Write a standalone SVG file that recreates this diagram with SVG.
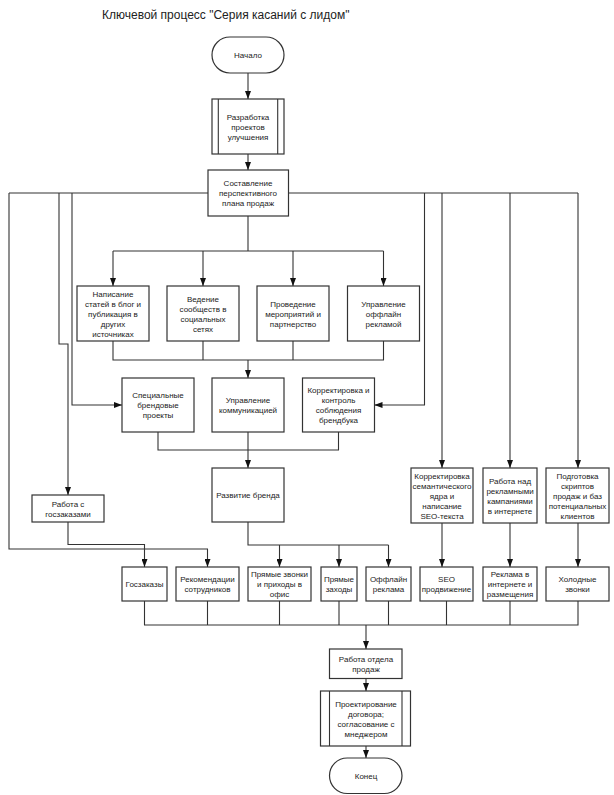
<svg xmlns="http://www.w3.org/2000/svg" width="614" height="795" viewBox="0 0 614 795">
<style>
.box{fill:#fff;stroke:#333;stroke-width:1.2}
.ln{fill:none;stroke:#333;stroke-width:1.1}
.t{font-family:"Liberation Sans",Arial,sans-serif;font-size:8px;fill:#222;text-anchor:middle}
.title{font-family:"Liberation Sans",Arial,sans-serif;font-size:12px;fill:#222}
</style>
<defs>
<marker id="ah" viewBox="0 0 8 6" refX="8" refY="3" markerWidth="8" markerHeight="6" markerUnits="userSpaceOnUse" orient="auto">
<path d="M0,0 L8,3 L0,6 z" fill="#111"/>
</marker>
</defs>
<rect width="614" height="795" fill="#fff"/>
<text class="title" x="102" y="19">Ключевой процесс "Серия касаний с лидом"</text>

<g id="connectors">
<path class="ln" d="M248,73 V99" marker-end="url(#ah)"/>
<path class="ln" d="M248,154 V170" marker-end="url(#ah)"/>
<path class="ln" d="M248,216 V251 M113,251 H383.5"/>
<path class="ln" d="M113,251 V286" marker-end="url(#ah)"/>
<path class="ln" d="M203,251 V286" marker-end="url(#ah)"/>
<path class="ln" d="M293,251 V286" marker-end="url(#ah)"/>
<path class="ln" d="M383.5,251 V286" marker-end="url(#ah)"/>
<path class="ln" d="M113,341 V360 H383.5 V341 M203,341 V360 M293,341 V360"/>
<path class="ln" d="M248,360 V378" marker-end="url(#ah)"/>
<path class="ln" d="M158,432 V450 H338.5 V432"/>
<path class="ln" d="M248,432 V468" marker-end="url(#ah)"/>
<path class="ln" d="M9,193 H208 M288,193 H578"/>
<path class="ln" d="M9,193 V549 H207.5 V567" marker-end="url(#ah)"/>
<path class="ln" d="M59,193 V344 H68 V495" marker-end="url(#ah)"/>
<path class="ln" d="M72,193 V405 H122" marker-end="url(#ah)"/>
<path class="ln" d="M424.5,193 V405 H374.5" marker-end="url(#ah)"/>
<path class="ln" d="M442,193 V468" marker-end="url(#ah)"/>
<path class="ln" d="M510,193 V468" marker-end="url(#ah)"/>
<path class="ln" d="M578,193 V468" marker-end="url(#ah)"/>
<path class="ln" d="M68,522 V544.5 H144.5 V567" marker-end="url(#ah)"/>
<path class="ln" d="M248,522 V545 H388.5"/>
<path class="ln" d="M279.5,545 V567" marker-end="url(#ah)"/>
<path class="ln" d="M339,545 V567" marker-end="url(#ah)"/>
<path class="ln" d="M388.5,545 V567" marker-end="url(#ah)"/>
<path class="ln" d="M442,523 V567" marker-end="url(#ah)"/>
<path class="ln" d="M510,523 V567" marker-end="url(#ah)"/>
<path class="ln" d="M578,523 V567" marker-end="url(#ah)"/>
<path class="ln" d="M144.5,601 V625 H578 V601 M207.5,601 V625 M279.5,601 V625 M339,601 V625 M388.5,601 V625 M446.5,601 V625 M510,601 V625"/>
<path class="ln" d="M366,625 V649" marker-end="url(#ah)"/>
<path class="ln" d="M366,678.5 V691" marker-end="url(#ah)"/>
<path class="ln" d="M366,746 V758" marker-end="url(#ah)"/>
</g>

<g id="start"><rect class="box" x="212" y="37" width="72" height="36" rx="18"/><text class="t" x="248" y="58">Начало</text></g>
<g id="razrab"><rect class="box" x="212" y="99" width="72" height="55"/><path class="ln" d="M218.3,99 V154 M277.7,99 V154"/><text class="t"><tspan x="248" y="119.5">Разработка</tspan><tspan x="248" y="129.5">проектов</tspan><tspan x="248" y="139.5">улучшения</tspan></text></g>
<g id="sostav"><rect class="box" x="208" y="170" width="80.5" height="46"/><text class="t"><tspan x="248" y="186">Составление</tspan><tspan x="248" y="196">перспективного</tspan><tspan x="248" y="206">плана продаж</tspan></text></g>

<g id="n1"><rect class="box" x="77" y="286" width="72" height="55"/><text class="t"><tspan x="113" y="296.5">Написание</tspan><tspan x="113" y="306.5">статей в блог и</tspan><tspan x="113" y="316.5">публикация в</tspan><tspan x="113" y="326.5">других</tspan><tspan x="113" y="336.5">источниках</tspan></text></g>
<g id="n2"><rect class="box" x="167" y="286" width="72" height="55"/><text class="t"><tspan x="203" y="301.5">Ведение</tspan><tspan x="203" y="311.5">сообществ в</tspan><tspan x="203" y="321.5">социальных</tspan><tspan x="203" y="331.5">сетях</tspan></text></g>
<g id="n3"><rect class="box" x="257" y="286" width="72" height="55"/><text class="t"><tspan x="293" y="306.5">Проведение</tspan><tspan x="293" y="316.5">мероприятий и</tspan><tspan x="293" y="326.5">партнерство</tspan></text></g>
<g id="n4"><rect class="box" x="347.5" y="286" width="72" height="55"/><text class="t"><tspan x="383.5" y="306.5">Управление</tspan><tspan x="383.5" y="316.5">оффлайн</tspan><tspan x="383.5" y="326.5">рекламой</tspan></text></g>

<g id="s1"><rect class="box" x="122" y="378" width="72" height="54"/><text class="t"><tspan x="158" y="398">Специальные</tspan><tspan x="158" y="408">брендовые</tspan><tspan x="158" y="418">проекты</tspan></text></g>
<g id="s2"><rect class="box" x="212" y="378" width="72" height="54"/><text class="t"><tspan x="248" y="403">Управление</tspan><tspan x="248" y="413">коммуникацией</tspan></text></g>
<g id="s3"><rect class="box" x="302.5" y="378" width="72" height="54"/><text class="t"><tspan x="338.5" y="393">Корректировка и</tspan><tspan x="338.5" y="403">контроль</tspan><tspan x="338.5" y="413">соблюдения</tspan><tspan x="338.5" y="423">брендбука</tspan></text></g>

<g id="brand"><rect class="box" x="212" y="468" width="72" height="54"/><text class="t" x="248" y="498">Развитие бренда</text></g>
<g id="gos"><rect class="box" x="32" y="495" width="72" height="27"/><text class="t"><tspan x="68" y="506.5">Работа с</tspan><tspan x="68" y="516.5">госзаказами</tspan></text></g>
<g id="seo1"><rect class="box" x="411" y="468" width="62" height="55"/><text class="t"><tspan x="442" y="478.5">Корректировка</tspan><tspan x="442" y="488.5">семантического</tspan><tspan x="442" y="498.5">ядра и</tspan><tspan x="442" y="508.5">написание</tspan><tspan x="442" y="518.5">SEO-текста</tspan></text></g>
<g id="rek1"><rect class="box" x="483" y="468" width="54" height="55"/><text class="t"><tspan x="510" y="483.5">Работа над</tspan><tspan x="510" y="493.5">рекламными</tspan><tspan x="510" y="503.5">кампаниями</tspan><tspan x="510" y="513.5">в интернете</tspan></text></g>
<g id="scr"><rect class="box" x="546" y="468" width="63" height="55"/><text class="t"><tspan x="577.5" y="478.5">Подготовка</tspan><tspan x="577.5" y="488.5">скриптов</tspan><tspan x="577.5" y="498.5">продаж и баз</tspan><tspan x="577.5" y="508.5">потенциальных</tspan><tspan x="577.5" y="518.5">клиентов</tspan></text></g>

<g id="r1"><rect class="box" x="122" y="567" width="45" height="34"/><text class="t" x="144.5" y="587">Госзаказы</text></g>
<g id="r2"><rect class="box" x="176" y="567" width="63" height="34"/><text class="t"><tspan x="207.5" y="582">Рекомендации</tspan><tspan x="207.5" y="592">сотрудников</tspan></text></g>
<g id="r3"><rect class="box" x="248" y="567" width="63" height="34"/><text class="t"><tspan x="279.5" y="577">Прямые звонки</tspan><tspan x="279.5" y="587">и приходы в</tspan><tspan x="279.5" y="597">офис</tspan></text></g>
<g id="r4"><rect class="box" x="321" y="567" width="36" height="34"/><text class="t"><tspan x="339" y="582">Прямые</tspan><tspan x="339" y="592">заходы</tspan></text></g>
<g id="r5"><rect class="box" x="366" y="567" width="45" height="34"/><text class="t"><tspan x="388.5" y="582">Оффлайн</tspan><tspan x="388.5" y="592">реклама</tspan></text></g>
<g id="r6"><rect class="box" x="420" y="567" width="53" height="34"/><text class="t"><tspan x="446.5" y="582">SEO</tspan><tspan x="446.5" y="592">продвижение</tspan></text></g>
<g id="r7"><rect class="box" x="483" y="567" width="54" height="34"/><text class="t"><tspan x="510" y="577">Реклама в</tspan><tspan x="510" y="587">интернете и</tspan><tspan x="510" y="597">размещения</tspan></text></g>
<g id="r8"><rect class="box" x="546" y="567" width="63" height="34"/><text class="t"><tspan x="577.5" y="582">Холодные</tspan><tspan x="577.5" y="592">звонки</tspan></text></g>

<g id="sales"><rect class="box" x="329.5" y="649" width="72.5" height="29.5"/><text class="t"><tspan x="366" y="661.5">Работа отдела</tspan><tspan x="366" y="671.5">продаж</tspan></text></g>
<g id="contract"><rect class="box" x="320.5" y="691" width="90" height="55"/><path class="ln" d="M329.5,691 V746 M402,691 V746"/><text class="t"><tspan x="366" y="706.5">Проектирование</tspan><tspan x="366" y="716.5">договора;</tspan><tspan x="366" y="726.5">согласование с</tspan><tspan x="366" y="736.5">мнеджером</tspan></text></g>
<g id="end"><rect class="box" x="329.5" y="758" width="72.5" height="35.5" rx="17.75"/><text class="t" x="366" y="779">Конец</text></g>
</svg>
